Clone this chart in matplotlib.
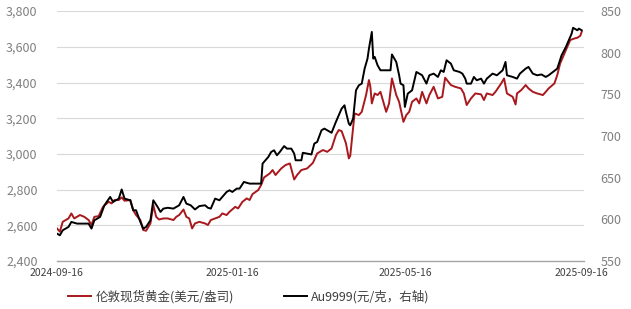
import numpy as np
import pandas as pd
import matplotlib
matplotlib.use('Agg')
import matplotlib.pyplot as plt
import matplotlib.dates as mdates
from matplotlib.ticker import FuncFormatter

plt.rcParams['font.family'] = ['Noto Sans CJK SC', 'DejaVu Sans']

start = pd.Timestamp('2024-09-16')

# London spot gold, USD/oz (left axis): day offset from start, value
lon_days = [0, 2, 4, 8, 10, 12, 16, 19, 22, 24, 26, 29, 32, 36, 38, 40, 43, 45, 47, 51,
            53, 55, 58, 60, 62, 65, 67, 69, 71, 74, 77, 81, 83, 85, 88, 90, 92, 94, 96, 99,
            103, 105, 107, 110, 113, 115, 118, 120, 124, 126, 129, 132, 134, 136, 140, 142,
            144, 148, 150, 152, 156, 159, 162, 165, 167, 170, 174, 178, 181, 185, 188, 191,
            194, 196, 198, 201, 203, 204, 207, 210, 212, 215, 217, 218, 219, 221, 223, 225,
            229, 231, 233, 236, 238, 240, 241, 243, 245, 247, 250, 252, 254, 257, 259, 262,
            265, 268, 270, 274, 277, 281, 283, 285, 288, 291, 295, 297, 299, 303, 305, 309,
            311, 313, 317, 319, 320, 323, 326, 328, 331, 334, 338, 340, 342, 346, 348, 350,
            353, 355, 357, 360, 362, 364, 365]
lon_vals = [2583, 2565, 2620, 2639, 2667, 2639, 2658, 2648, 2630, 2602, 2648, 2652, 2704,
            2732, 2723, 2742, 2742, 2757, 2738, 2742, 2686, 2658, 2630, 2574, 2570, 2611,
            2714, 2648, 2633, 2639, 2639, 2630, 2648, 2658, 2689, 2648, 2639, 2583, 2611,
            2620, 2611, 2602, 2630, 2639, 2648, 2667, 2658, 2676, 2704, 2695, 2732, 2751,
            2742, 2775, 2798, 2826, 2868, 2891, 2910, 2882, 2919, 2938, 2947, 2857, 2882,
            2910, 2919, 2950, 3003, 3022, 3012, 3031, 3106, 3134, 3128, 3060, 2975, 2990,
            3227, 3218, 3236, 3330, 3414, 3376, 3283, 3339, 3330, 3348, 3236, 3283, 3423,
            3330, 3292, 3218, 3180, 3218, 3236, 3292, 3311, 3283, 3348, 3283, 3330, 3376,
            3311, 3320, 3427, 3386, 3376, 3367, 3339, 3274, 3311, 3339, 3334, 3302, 3339,
            3330, 3348, 3395, 3423, 3339, 3320, 3277, 3339, 3358, 3386, 3367, 3348, 3339,
            3330, 3348, 3367, 3395, 3442, 3507, 3563, 3600, 3638, 3647, 3651, 3662, 3684]

# Au9999, CNY/g (right axis)
au_days = [0, 2, 4, 8, 10, 14, 17, 22, 24, 26, 30, 33, 37, 39, 43, 45, 47, 51, 53, 55,
           58, 60, 62, 65, 67, 70, 72, 74, 77, 81, 83, 85, 88, 90, 93, 96, 99, 103, 105,
           107, 110, 113, 115, 118, 120, 122, 125, 127, 130, 134, 137, 142, 143, 147, 149,
           151, 153, 155, 158, 160, 163, 165, 166, 170, 171, 174, 177, 179, 181, 184, 186,
           188, 191, 194, 196, 198, 200, 201, 203, 204, 206, 208, 210, 212, 214, 216, 217,
           219, 220, 221, 223, 225, 230, 232, 233, 236, 238, 239, 241, 242, 244, 247, 250,
           252, 254, 257, 259, 262, 265, 267, 269, 271, 274, 276, 280, 282, 284, 285, 288,
           290, 292, 295, 297, 299, 303, 306, 310, 312, 313, 317, 320, 322, 326, 328, 331,
           334, 337, 340, 342, 345, 348, 351, 354, 356, 358, 359, 362, 363, 365]
au_vals = [583, 581, 587, 591, 597, 595, 595, 595, 589, 599, 603, 617, 627, 621, 625, 636,
           625, 623, 611, 611, 597, 589, 591, 599, 623, 615, 609, 613, 614, 613, 615, 617,
           627, 619, 617, 612, 616, 617, 614, 613, 625, 623, 627, 633, 635, 633, 637, 637,
           645, 643, 643, 643, 667, 675, 681, 683, 677, 681, 688, 685, 685, 679, 671, 671,
           680, 679, 678, 691, 693, 707, 709, 707, 704, 717, 725, 733, 737, 729, 715, 713,
           721, 755, 761, 763, 781, 793, 805, 825, 793, 795, 785, 779, 779, 779, 798, 789,
           773, 763, 761, 735, 751, 755, 777, 775, 773, 763, 773, 775, 771, 779, 777, 791,
           787, 779, 777, 775, 769, 763, 763, 771, 767, 769, 763, 769, 775, 773, 779, 789,
           773, 771, 769, 775, 781, 783, 775, 773, 774, 771, 773, 777, 781, 797, 807, 815,
           823, 830, 827, 829, 827]

lon_label = '伦敦现货黄金(美元/盎司)'
au_label = 'Au9999(元/克，右轴)'
tick_days = [0, 122, 242, 365]

lon_dates = start + pd.to_timedelta(lon_days, unit='D')
au_dates = start + pd.to_timedelta(au_days, unit='D')
tick_dates = start + pd.to_timedelta(tick_days, unit='D')

fig = plt.figure(figsize=(6.31, 3.09), dpi=100)
ax = fig.add_axes([0.0903, 0.155, 0.835, 0.809])
ax2 = ax.twinx()

l1, = ax.plot(lon_dates, lon_vals, color='#A8181D', linewidth=1.4, label=lon_label, zorder=3)
l2, = ax2.plot(au_dates, au_vals, color='black', linewidth=1.4, label=au_label, zorder=3)

ax.set_ylim(2400, 3800)
ax.set_yticks(np.arange(2400, 3801, 200))
ax.yaxis.set_major_formatter(FuncFormatter(lambda v, p: f'{v:,.0f}'))
ax2.set_ylim(550, 850)
ax2.set_yticks(np.arange(550, 851, 50))

ax.set_xlim(start, start + pd.Timedelta(days=366.5))
ax.set_xticks(tick_dates)
ax.xaxis.set_major_formatter(mdates.DateFormatter('%Y-%m-%d'))

ax.grid(axis='y', color='#D9D9D9', linewidth=0.8)
ax.set_axisbelow(True)
for a in (ax, ax2):
    for s in ['top', 'left', 'right', 'bottom']:
        a.spines[s].set_visible(False)
    a.tick_params(length=0)
ax.spines['bottom'].set_visible(True)
ax.spines['bottom'].set_color('#A6A6A6')
ax.spines['bottom'].set_linewidth(1.0)

ax.tick_params(axis='y', labelsize=9, labelcolor='#808080', pad=14)
ax2.tick_params(axis='y', labelsize=9, labelcolor='#808080', pad=12)
ax.tick_params(axis='x', labelsize=7.5, labelcolor='#404040', pad=5)

fig.legend(handles=[l1, l2], loc='center', bbox_to_anchor=(0.394, 0.04), ncol=2,
           frameon=False, fontsize=9, handlelength=1.9, handletextpad=0.3,
           columnspacing=4.0, labelcolor='#404040')

fig.savefig('out.png', dpi=100)
